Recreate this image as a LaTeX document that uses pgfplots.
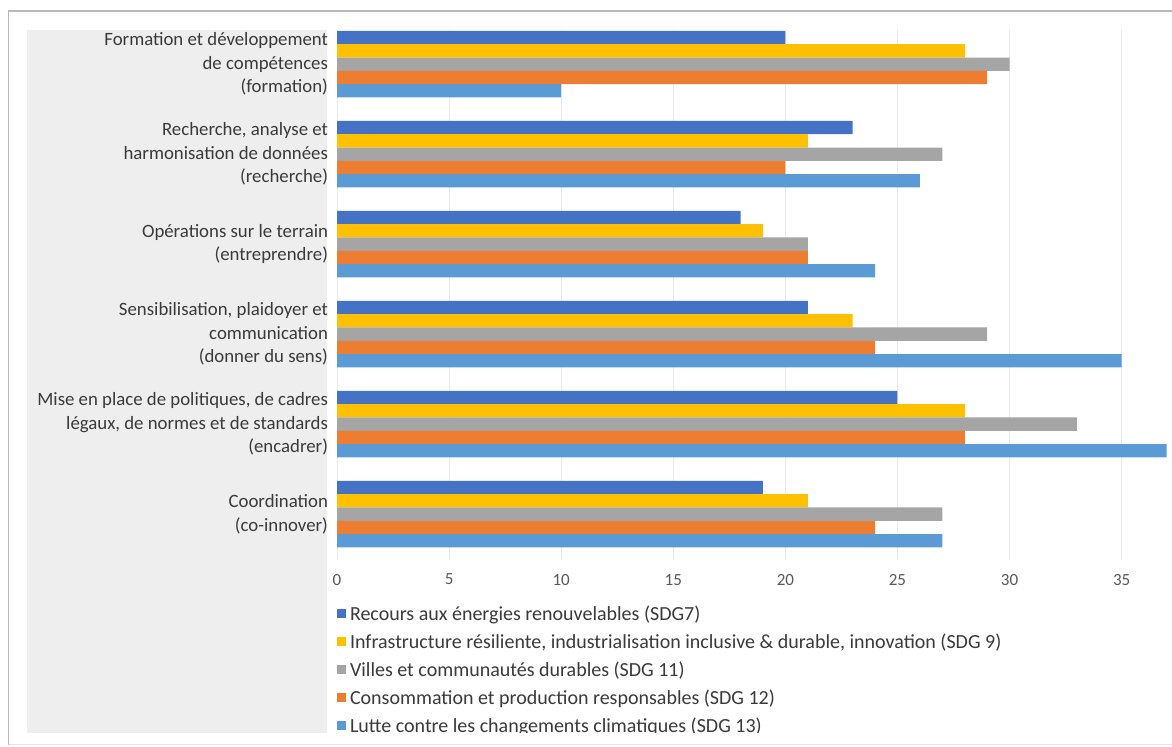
\documentclass[border=0pt]{standalone}
\usepackage{pgfplots}
\pgfplotsset{compat=1.18}
\usepackage{fontspec}
\setmainfont{Carlito}
\definecolor{cA}{HTML}{4472C4}
\definecolor{cB}{HTML}{FFC000}
\definecolor{cC}{HTML}{A5A5A5}
\definecolor{cD}{HTML}{ED7D31}
\definecolor{cE}{HTML}{5B9BD5}
\definecolor{panel}{HTML}{EEEEEE}
\definecolor{labtxt}{HTML}{3A3A3A}
\definecolor{ticktxt}{HTML}{595959}
\definecolor{gridc}{HTML}{EAEAEA}
\begin{document}
\begin{tikzpicture}[x=1pt,y=1pt]
\path[use as bounding box] (0,0) rectangle (586,373.5);
\fill[white] (0,0) rectangle (586,373.5);
\draw[black!28, line width=0.8pt] (4.3,1) -- (4.3,368) -- (586,368);
\draw[black!10, line width=0.5pt] (4.3,1) -- (586,1);
\fill[panel] (13.5,7) rectangle (163.5,358.5);
\begin{axis}[
  at={(168.5pt,93.5pt)}, anchor=south west,
  scale only axis, width=417pt, height=265pt,
  xbar=0pt, bar width=6.65pt,
  xmin=0, xmax=37.2, ymin=-0.38, ymax=5.51,
  y dir=reverse,
  axis line style={draw=none},
  major tick length=0pt,
  xmajorgrids, grid style={gridc, line width=0.5pt},
  xtick={0,5,...,35},
  ytick={0,1,2,3,4,5},
  yticklabels={
    {Formation et développement\\de compétences\\(formation)},
    {Recherche, analyse et\\harmonisation de données\\(recherche)},
    {Opérations sur le terrain\\(entreprendre)},
    {Sensibilisation, plaidoyer et\\communication\\(donner du sens)},
    {Mise en place de politiques, de cadres\\légaux, de normes et de standards\\(encadrer)},
    {Coordination\\(co-innover)}},
  yticklabel style={align=right, text=labtxt, font=\fontsize{9.4}{11.75}\selectfont, xshift=-1pt},
  xticklabel style={text=ticktxt, font=\fontsize{8.5}{9}\selectfont, yshift=-3.5pt},
  /pgf/number format/assume math mode=true,
  legend style={at={(0,0)}, anchor=north west, yshift=-22pt, draw=none, fill=none,
    inner sep=0pt, row sep=3pt, column sep=0pt,
    nodes={inner sep=1pt, text height=7pt, text depth=2pt, text=labtxt},
    font=\fontsize{10}{11}\selectfont},
  legend cell align=left,
  legend image code/.code={\fill[#1] (0.5pt,-1.2pt) rectangle (4.6pt,3.2pt); \path (5.8pt,0pt);},
]
\addplot[fill=cA, draw=none, bar shift=13.3pt] coordinates {(20,0) (23,1) (18,2) (21,3) (25,4) (19,5)};
\addplot[fill=cB, draw=none, bar shift=6.65pt] coordinates {(28,0) (21,1) (19,2) (23,3) (28,4) (21,5)};
\addplot[fill=cC, draw=none, bar shift=0pt] coordinates {(30,0) (27,1) (21,2) (29,3) (33,4) (27,5)};
\addplot[fill=cD, draw=none, bar shift=-6.65pt] coordinates {(29,0) (20,1) (21,2) (24,3) (28,4) (24,5)};
\addplot[fill=cE, draw=none, bar shift=-13.3pt] coordinates {(10,0) (26,1) (24,2) (35,3) (37,4) (27,5)};
\legend{Recours aux énergies renouvelables (SDG7),
  Infrastructure résiliente{,} industrialisation inclusive \& durable{,} innovation (SDG 9),
  Villes et communautés durables (SDG 11),
  Consommation et production responsables (SDG 12),
  Lutte contre les changements climatiques (SDG 13)}
\end{axis}
\fill[white] (4.8,1.3) rectangle (586,7);
\end{tikzpicture}
\end{document}
